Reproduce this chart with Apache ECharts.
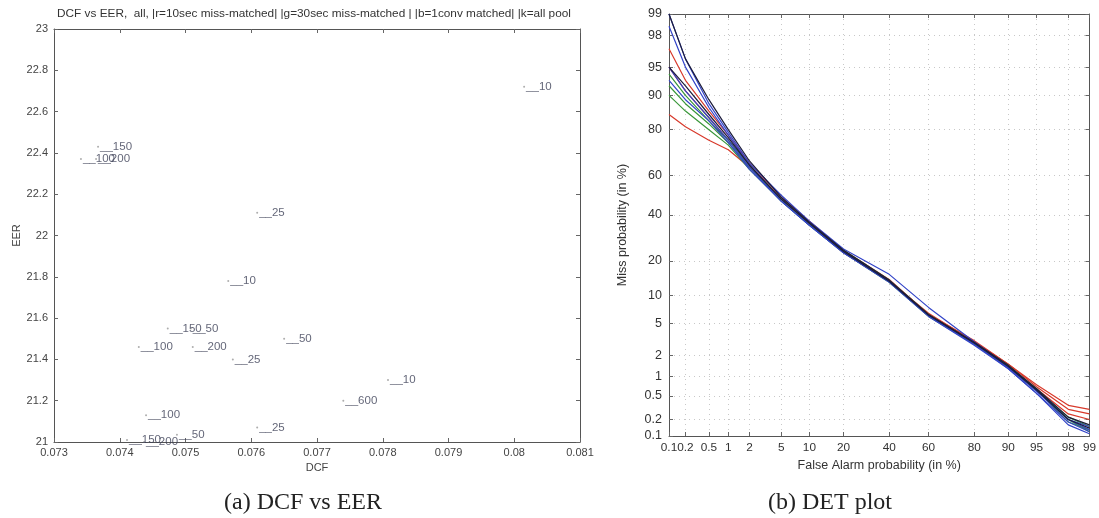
<!DOCTYPE html>
<html><head><meta charset="utf-8">
<script src="https://cdn.jsdelivr.net/npm/echarts@6/dist/echarts.min.js"></script>
<style>html,body{margin:0;padding:0;background:#fff}#c{width:1099px;height:518px}</style>
</head><body><div id="c"></div>
<script>
// ---- Panel (a): DCF vs EER ----
const pointLabels = ['10','150','100','200','25','10','150','50','100','200','25','50','10','600','100','25','50','150','200'];
const dcfValues   = [0.08015,0.07367,0.07341,0.07364,0.07609,0.07565,0.07473,0.07508,0.07429,0.07511,0.07572,0.07650,0.07808,0.07740,0.07440,0.07609,0.07487,0.07411,0.07437];
const eerValues   = [22.72,22.43,22.37,22.37,22.11,21.78,21.55,21.55,21.46,21.46,21.40,21.50,21.30,21.20,21.13,21.07,21.035,21.01,21.00];

// ---- Panel (b): DET plot ----
const detTickValues = [0.1,0.2,0.5,1,2,5,10,20,40,60,80,90,95,98,99];
const detTickLabels = ['0.1','0.2','0.5','1','2','5','10','20','40','60','80','90','95','98','99'];
const falseAlarm = [0.1,0.2,0.5,1,2,5,10,20,40,60,80,90,95,98,99];
const missRed1   = [85,81,76,72,64,48,36,23,13.5,6.5,3.0,1.5,0.70,0.30,0.25];
const missRed2   = [97,93,86,78,66,49,37,24,14,6.3,3.1,1.5,0.75,0.35,0.30];
const missRed3   = [95,91,84,76,65,48,36,23.5,13.6,6.2,2.9,1.4,0.65,0.25,0.20];
const missGreen1 = [90,86,80,74,63,47,35,23,13.2,6.0,2.8,1.35,0.60,0.22,0.15];
const missGreen2 = [92,88,82,75,64,48,36,23.5,13.5,6.1,2.9,1.4,0.65,0.20,0.12];
const missGreen3 = [94,90,83,76,65,48,36,24,13.8,6.3,2.9,1.45,0.62,0.18,0.13];
const missBlue1  = [99,96,88,79,66,50,37,24.5,15.5,7.5,3.0,1.4,0.60,0.20,0.13];
const missBlue2  = [95,91,84,76,64,47,35,23,13.4,6.1,2.8,1.3,0.55,0.18,0.12];
const missBlue3  = [93,89,83,75,63,47,35,23,13.2,6.0,2.7,1.3,0.55,0.16,0.11];
const missBlue4  = [98.5,95,87,78,65,48,36,23.5,13.6,6.2,2.9,1.35,0.60,0.20,0.15];
const missBlack1 = [95,92,85,77,65,48,36,23.5,13.5,6.2,2.9,1.4,0.62,0.20,0.14];
const missBlack2 = [99,96,89,80,67,49,36.5,24,13.8,6.3,2.95,1.45,0.65,0.22,0.16];

const detCurves = [
  {data: missRed1, color:'#d83a2c'}, {data: missRed2, color:'#d83a2c'}, {data: missRed3, color:'#d83a2c'},
  {data: missGreen1, color:'#3a973a'}, {data: missGreen2, color:'#3a973a'}, {data: missGreen3, color:'#3a973a'},
  {data: missBlue1, color:'#3344c8'}, {data: missBlue2, color:'#3344c8'}, {data: missBlue3, color:'#3344c8'}, {data: missBlue4, color:'#3344c8'},
  {data: missBlack1, color:'#1c1c3a'}, {data: missBlack2, color:'#1c1c3a'}
];

// inverse normal CDF (probit) used as the DET axis scale
function probit(p){
  const a=[-3.969683028665376e+01,2.209460984245205e+02,-2.759285104469687e+02,1.383577518672690e+02,-3.066479806614716e+01,2.506628277459239e+00];
  const b=[-5.447609879822406e+01,1.615858368580409e+02,-1.556989798598866e+02,6.680131188771972e+01,-1.328068155288572e+01];
  const c=[-7.784894002430293e-03,-3.223964580411365e-01,-2.400758277161838e+00,-2.549732539343734e+00,4.374664141464968e+00,2.938163982698783e+00];
  const d=[7.784695709041462e-03,3.224671290700398e-01,2.445134137142996e+00,3.754408661907416e+00];
  const pl=0.02425, ph=1-pl; let q,r;
  if(p<pl){q=Math.sqrt(-2*Math.log(p));return (((((c[0]*q+c[1])*q+c[2])*q+c[3])*q+c[4])*q+c[5])/((((d[0]*q+d[1])*q+d[2])*q+d[3])*q+1);}
  if(p<=ph){q=p-0.5;r=q*q;return (((((a[0]*r+a[1])*r+a[2])*r+a[3])*r+a[4])*r+a[5])*q/(((((b[0]*r+b[1])*r+b[2])*r+b[3])*r+b[4])*r+1);}
  q=Math.sqrt(-2*Math.log(1-p));return -(((((c[0]*q+c[1])*q+c[2])*q+c[3])*q+c[4])*q+c[5])/((((d[0]*q+d[1])*q+d[2])*q+d[3])*q+1);
}
const pz = v => probit(v/100);
const detPos = detTickValues.map(pz);
const detMin = pz(0.1), detMax = pz(99);
const detFmt = v => { for(let i=0;i<detPos.length;i++){ if(Math.abs(detPos[i]-v)<1e-6) return detTickLabels[i]; } return ''; };

const FONT = 'Liberation Sans, Arial, sans-serif';
const axisLine = {show:true, onZero:false, lineStyle:{color:'#555', width:1}};
const tickIn = {show:true, inside:true, length:4, lineStyle:{color:'#666'}};

const chart = echarts.init(document.getElementById('c'), null, {renderer:'canvas'});
chart.setOption({
  animation:false,
  backgroundColor:'#fff',
  grid:[
    {left:54, top:29, width:526, height:413},
    {left:669, top:14, width:423, height:422}
  ],
  xAxis:[
    {gridIndex:0, type:'value', min:0.073, max:0.081, interval:0.001, position:'bottom',
     axisLine, axisTick:tickIn, splitLine:{show:false},
     axisLabel:{color:'#444', fontSize:11, fontFamily:FONT, margin:5, showMinLabel:true, showMaxLabel:true},
     name:'DCF', nameLocation:'middle', nameGap:18, nameTextStyle:{color:'#444', fontSize:11, fontFamily:FONT}},
    {gridIndex:0, type:'value', min:0.073, max:0.081, interval:0.001, position:'top',
     axisLine, axisTick:tickIn, axisLabel:{show:false}, splitLine:{show:false}},
    {gridIndex:1, type:'value', min:detMin, max:detMax, position:'bottom',
     axisLine, axisTick:Object.assign({customValues:detPos}, tickIn),
     axisLabel:{customValues:detPos, formatter:detFmt, color:'#333', fontSize:11.8, fontFamily:FONT, margin:6, showMinLabel:true, showMaxLabel:true, hideOverlap:false, interval:0},
     splitLine:{show:true, lineStyle:{color:'#c8c8c8', type:[1,4], width:1}},
     name:'False Alarm probability (in %)', nameLocation:'middle', nameGap:22, nameTextStyle:{color:'#333', fontSize:12.5, fontFamily:FONT}},
    {gridIndex:1, type:'value', min:detMin, max:detMax, position:'top',
     axisLine, axisTick:Object.assign({customValues:detPos}, tickIn), axisLabel:{show:false}, splitLine:{show:false}}
  ],
  yAxis:[
    {gridIndex:0, type:'value', min:21, max:23, interval:0.2, position:'left',
     axisLine, axisTick:tickIn, splitLine:{show:false},
     axisLabel:{color:'#444', fontSize:11, fontFamily:FONT, margin:6},
     name:'EER', nameLocation:'middle', nameRotate:90, nameGap:32, nameTextStyle:{color:'#444', fontSize:11, fontFamily:FONT}},
    {gridIndex:0, type:'value', min:21, max:23, interval:0.2, position:'right',
     axisLine, axisTick:tickIn, axisLabel:{show:false}, splitLine:{show:false}},
    {gridIndex:1, type:'value', min:detMin, max:detMax, position:'left',
     axisLine, axisTick:Object.assign({customValues:detPos}, tickIn),
     axisLabel:{customValues:detPos, formatter:detFmt, color:'#333', fontSize:12.5, fontFamily:FONT, margin:7, showMinLabel:true, showMaxLabel:true, hideOverlap:false, interval:0},
     splitLine:{show:true, lineStyle:{color:'#c8c8c8', type:[1,4], width:1}},
     name:'Miss probability (in %)', nameLocation:'middle', nameRotate:90, nameGap:40, nameTextStyle:{color:'#333', fontSize:12.5, fontFamily:FONT}},
    {gridIndex:1, type:'value', min:detMin, max:detMax, position:'right',
     axisLine, axisTick:Object.assign({customValues:detPos}, tickIn), axisLabel:{show:false}, splitLine:{show:false}}
  ],
  series:[
    {type:'scatter', xAxisIndex:0, yAxisIndex:0, symbol:'circle', symbolSize:2,
     itemStyle:{color:'#999'},
     data: dcfValues.map((x,i)=>({value:[x, eerValues[i]], name:pointLabels[i]})),
     label:{show:true, position:'right', distance:1, formatter: p => '__' + p.name,
            color:'#3b3f55', fontSize:11.5, fontFamily:FONT}},
    ...detCurves.map(c => ({
      type:'line', xAxisIndex:2, yAxisIndex:2, showSymbol:false, symbol:'none', smooth:false,
      lineStyle:{color:c.color, width:1.2}, clip:true,
      data: falseAlarm.map((fa,i)=>[pz(fa), pz(c.data[i])])
    }))
  ],
  graphic:[
    {type:'text', x:314, y:8, style:{text:'DCF vs EER,  all, |r=10sec miss-matched| |g=30sec miss-matched | |b=1conv matched| |k=all pool',
      fill:'#333', font:'11.8px '+FONT, textAlign:'center'}},
    {type:'text', x:303, y:491, style:{text:'(a) DCF vs EER', fill:'#222', font:'24px "Liberation Serif", "Times New Roman", serif', textAlign:'center'}},
    {type:'text', x:830, y:491, style:{text:'(b) DET plot', fill:'#222', font:'24px "Liberation Serif", "Times New Roman", serif', textAlign:'center'}}
  ]
});
</script></body></html>
